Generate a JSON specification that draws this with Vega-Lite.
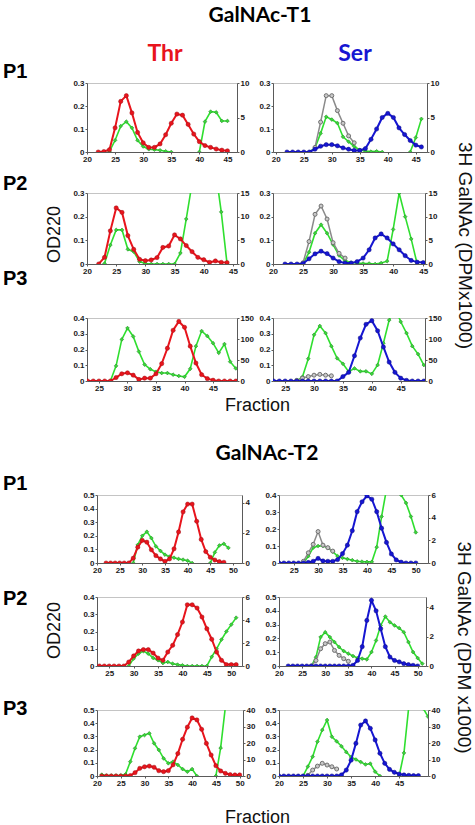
{
"$schema": "https://vega.github.io/schema/vega-lite/v6.json",
"autosize": {"type": "pad"},
"padding": {"left": 3, "top": 5, "right": 0, "bottom": 0},
"background": "white",
"config": {
  "font": "Liberation Sans",
  "view": {"stroke": "#c4c4c4"},
  "axis": {"grid": false, "labelFont": "Liberation Sans", "labelFontSize": 8, "labelFontWeight": "bold", "labelColor": "#1a1a1a", "domainColor": "#5a5a5a", "tickColor": "#5a5a5a", "tickSize": 2, "labelPadding": 1, "labelFlush": false, "labelOverlap": false, "titleFont": "Liberation Sans", "titleFontWeight": "normal", "titleColor": "#111111", "titleFontSize": 18},
  "title": {"font": "Lato", "fontWeight": "bold", "color": "#000000", "anchor": "middle", "frame": "group"}
},
"spacing": 27,
"datasets": {
"a1r": [{"f":22,"v":0},{"f":23,"v":0.002},{"f":24,"v":0.01},{"f":25,"v":0.105},{"f":26,"v":0.22},{"f":27,"v":0.245},{"f":28,"v":0.17},{"f":29,"v":0.085},{"f":30,"v":0.04},{"f":31,"v":0.02},{"f":32,"v":0.02},{"f":33,"v":0.035},{"f":34,"v":0.075},{"f":35,"v":0.125},{"f":36,"v":0.165},{"f":37,"v":0.16},{"f":38,"v":0.12},{"f":39,"v":0.078},{"f":40,"v":0.045},{"f":41,"v":0.028},{"f":42,"v":0.02},{"f":43,"v":0.013},{"f":44,"v":0.008},{"f":45,"v":0.005}],
"a1g": [{"f":24,"v":0.1,"s":1},{"f":25,"v":1.7,"s":1},{"f":26,"v":3.75,"s":1},{"f":27,"v":4.4,"s":1},{"f":28,"v":3.5,"s":1},{"f":29,"v":1.7,"s":1},{"f":30,"v":0.8,"s":1},{"f":31,"v":0.4,"s":1},{"f":32,"v":0.35,"s":1},{"f":33,"v":0.25,"s":1},{"f":34,"v":0.1,"s":1},{"f":35,"v":0,"s":1},{"f":40,"v":0,"s":2},{"f":41,"v":4.4,"s":2},{"f":42,"v":5.85,"s":2},{"f":43,"v":5.75,"s":2},{"f":44,"v":4.5,"s":2},{"f":45,"v":4.5,"s":2}],
"b1b": [{"f":22,"v":0},{"f":23,"v":0},{"f":24,"v":0},{"f":25,"v":0},{"f":26,"v":0},{"f":27,"v":0.012},{"f":28,"v":0.025},{"f":29,"v":0.032},{"f":30,"v":0.032},{"f":31,"v":0.027},{"f":32,"v":0.018},{"f":33,"v":0.012},{"f":34,"v":0.007},{"f":35,"v":0.007},{"f":36,"v":0.015},{"f":37,"v":0.055},{"f":38,"v":0.1},{"f":39,"v":0.15},{"f":40,"v":0.168},{"f":41,"v":0.15},{"f":42,"v":0.105},{"f":43,"v":0.076},{"f":44,"v":0.05},{"f":45,"v":0.03},{"f":46,"v":0.022}],
"b1y": [{"f":27,"v":0.02},{"f":28,"v":0.13},{"f":29,"v":0.245},{"f":30,"v":0.245},{"f":31,"v":0.18},{"f":32,"v":0.125},{"f":33,"v":0.07},{"f":34,"v":0.04}],
"b1g": [{"f":26,"v":0,"s":1},{"f":27,"v":0.6,"s":1},{"f":28,"v":2.7,"s":1},{"f":29,"v":5.1,"s":1},{"f":30,"v":4.7,"s":1},{"f":31,"v":4.2,"s":1},{"f":32,"v":2.2,"s":1},{"f":33,"v":1.5,"s":1},{"f":34,"v":0.8,"s":1},{"f":35,"v":0.3,"s":1},{"f":36,"v":0.15,"s":1},{"f":37,"v":0.05,"s":1},{"f":38,"v":0.1,"s":1},{"f":39,"v":0,"s":1},{"f":44,"v":0,"s":2},{"f":45,"v":2.1,"s":2},{"f":46,"v":4.8,"s":2}],
"a2r": [{"f":22,"v":0},{"f":23,"v":0.028},{"f":24,"v":0.14},{"f":25,"v":0.237},{"f":26,"v":0.218},{"f":27,"v":0.12},{"f":28,"v":0.062},{"f":29,"v":0.02},{"f":30,"v":0.014},{"f":31,"v":0.017},{"f":32,"v":0.027},{"f":33,"v":0.07},{"f":34,"v":0.076},{"f":35,"v":0.123},{"f":36,"v":0.106},{"f":37,"v":0.078},{"f":38,"v":0.052},{"f":39,"v":0.028},{"f":40,"v":0.018},{"f":41,"v":0.007},{"f":42,"v":0.013},{"f":43,"v":0.007},{"f":44,"v":0.006}],
"a2g": [{"f":23,"v":0.1},{"f":24,"v":4.0},{"f":25,"v":7.2},{"f":26,"v":7.2},{"f":27,"v":3.1},{"f":28,"v":2.6},{"f":29,"v":0.5},{"f":30,"v":0.1},{"f":31,"v":0},{"f":32,"v":0},{"f":33,"v":0},{"f":34,"v":0},{"f":35,"v":0},{"f":36,"v":2.3},{"f":37,"v":9.5},{"f":38,"v":17},{"f":39,"v":30},{"f":40,"v":35},{"f":41,"v":30},{"f":42,"v":20},{"f":43,"v":11},{"f":44,"v":0}],
"b2b": [{"f":22,"v":0},{"f":23,"v":0},{"f":24,"v":0},{"f":25,"v":0.002},{"f":26,"v":0.022},{"f":27,"v":0.043},{"f":28,"v":0.054},{"f":29,"v":0.044},{"f":30,"v":0.025},{"f":31,"v":0.01},{"f":32,"v":0.004},{"f":33,"v":0.004},{"f":34,"v":0.01},{"f":35,"v":0.025},{"f":36,"v":0.06},{"f":37,"v":0.11},{"f":38,"v":0.127},{"f":39,"v":0.11},{"f":40,"v":0.085},{"f":41,"v":0.06},{"f":42,"v":0.035},{"f":43,"v":0.015},{"f":44,"v":0.008},{"f":45,"v":0.006}],
"b2y": [{"f":25,"v":0.005},{"f":26,"v":0.095},{"f":27,"v":0.21},{"f":28,"v":0.245},{"f":29,"v":0.19},{"f":30,"v":0.09},{"f":31,"v":0.045},{"f":32,"v":0.025}],
"b2g": [{"f":25,"v":0},{"f":26,"v":2.5},{"f":27,"v":6.5},{"f":28,"v":8.3},{"f":29,"v":6.5},{"f":30,"v":4.1},{"f":31,"v":1.8},{"f":32,"v":0.7},{"f":33,"v":0.3},{"f":34,"v":0.2},{"f":35,"v":0.1},{"f":36,"v":0.1},{"f":37,"v":0},{"f":38,"v":0.2},{"f":39,"v":0.6},{"f":40,"v":7.3},{"f":41,"v":15},{"f":42,"v":10},{"f":43,"v":5.3},{"f":44,"v":0}],
"a3r": [{"f":23,"v":0},{"f":24,"v":0},{"f":25,"v":0},{"f":26,"v":0},{"f":27,"v":0},{"f":28,"v":0.022},{"f":29,"v":0.046},{"f":30,"v":0.052},{"f":31,"v":0.037},{"f":32,"v":0.01},{"f":33,"v":0.018},{"f":34,"v":0.018},{"f":35,"v":0.046},{"f":36,"v":0.11},{"f":37,"v":0.208},{"f":38,"v":0.322},{"f":39,"v":0.378},{"f":40,"v":0.341},{"f":41,"v":0.221},{"f":42,"v":0.114},{"f":43,"v":0.04},{"f":44,"v":0.015},{"f":45,"v":0.005},{"f":46,"v":0},{"f":47,"v":0},{"f":48,"v":0},{"f":49,"v":0}],
"a3g": [{"f":27,"v":0},{"f":28,"v":36},{"f":29,"v":99},{"f":30,"v":126},{"f":31,"v":106},{"f":32,"v":70},{"f":33,"v":39},{"f":34,"v":28},{"f":35,"v":22},{"f":36,"v":19},{"f":37,"v":19},{"f":38,"v":15},{"f":39,"v":12},{"f":40,"v":10},{"f":41,"v":29},{"f":42,"v":83},{"f":43,"v":119},{"f":44,"v":107},{"f":45,"v":90},{"f":46,"v":67},{"f":47,"v":88},{"f":48,"v":46},{"f":49,"v":30}],
"b3b": [{"f":23,"v":0},{"f":24,"v":0},{"f":25,"v":0},{"f":26,"v":0},{"f":27,"v":0},{"f":28,"v":0},{"f":29,"v":0},{"f":30,"v":0},{"f":31,"v":0},{"f":32,"v":0},{"f":33,"v":0},{"f":34,"v":0},{"f":35,"v":0.028},{"f":36,"v":0.055},{"f":37,"v":0.16},{"f":38,"v":0.273},{"f":39,"v":0.36},{"f":40,"v":0.383},{"f":41,"v":0.319},{"f":42,"v":0.216},{"f":43,"v":0.12},{"f":44,"v":0.055},{"f":45,"v":0.018},{"f":46,"v":0.004},{"f":47,"v":0},{"f":48,"v":0},{"f":49,"v":0}],
"b3y": [{"f":27,"v":0.004},{"f":28,"v":0.018},{"f":29,"v":0.028},{"f":30,"v":0.037},{"f":31,"v":0.042},{"f":32,"v":0.037},{"f":33,"v":0.033}],
"b3g": [{"f":27,"v":0},{"f":28,"v":10},{"f":29,"v":53},{"f":30,"v":110},{"f":31,"v":131},{"f":32,"v":114},{"f":33,"v":83},{"f":34,"v":54},{"f":35,"v":41},{"f":36,"v":22},{"f":37,"v":30},{"f":38,"v":23},{"f":39,"v":23},{"f":40,"v":17},{"f":41,"v":38},{"f":42,"v":90},{"f":43,"v":145},{"f":44,"v":175},{"f":45,"v":141},{"f":46,"v":114},{"f":47,"v":83},{"f":48,"v":64},{"f":49,"v":38}],
"c1r": [{"f":22,"v":0},{"f":23,"v":0},{"f":24,"v":0},{"f":25,"v":0},{"f":26,"v":0},{"f":27,"v":0},{"f":28,"v":0.035},{"f":29,"v":0.116},{"f":30,"v":0.166},{"f":31,"v":0.153},{"f":32,"v":0.097},{"f":33,"v":0.054},{"f":34,"v":0.03},{"f":35,"v":0.012},{"f":36,"v":0.03},{"f":37,"v":0.104},{"f":38,"v":0.228},{"f":39,"v":0.376},{"f":40,"v":0.433},{"f":41,"v":0.433},{"f":42,"v":0.307},{"f":43,"v":0.173},{"f":44,"v":0.084},{"f":45,"v":0.042},{"f":46,"v":0.022},{"f":47,"v":0.01},{"f":48,"v":0.005}],
"c1g": [{"f":28,"v":0,"s":1},{"f":29,"v":1.2,"s":1},{"f":30,"v":1.8,"s":1},{"f":31,"v":2.07,"s":1},{"f":32,"v":1.65,"s":1},{"f":33,"v":1.1,"s":1},{"f":34,"v":0.8,"s":1},{"f":35,"v":0.55,"s":1},{"f":36,"v":0.42,"s":1},{"f":37,"v":0.35,"s":1},{"f":38,"v":0.27,"s":1},{"f":39,"v":0.22,"s":1},{"f":40,"v":0.15,"s":1},{"f":41,"v":0,"s":1},{"f":45,"v":0,"s":2},{"f":46,"v":0.7,"s":2},{"f":47,"v":1.16,"s":2},{"f":48,"v":1.27,"s":2},{"f":49,"v":1.0,"s":2}],
"d1b": [{"f":22,"v":0},{"f":23,"v":0},{"f":24,"v":0},{"f":25,"v":0},{"f":26,"v":0},{"f":27,"v":0},{"f":28,"v":0.003},{"f":29,"v":0.01},{"f":30,"v":0.027},{"f":31,"v":0.012},{"f":32,"v":0.01},{"f":33,"v":0.01},{"f":34,"v":0.02},{"f":35,"v":0.055},{"f":36,"v":0.105},{"f":37,"v":0.19},{"f":38,"v":0.302},{"f":39,"v":0.36},{"f":40,"v":0.395},{"f":41,"v":0.375},{"f":42,"v":0.302},{"f":43,"v":0.205},{"f":44,"v":0.121},{"f":45,"v":0.053},{"f":46,"v":0.018},{"f":47,"v":0.005},{"f":48,"v":0},{"f":49,"v":0},{"f":50,"v":0}],
"d1y": [{"f":27,"v":0.01},{"f":28,"v":0.06},{"f":29,"v":0.11},{"f":30,"v":0.185},{"f":31,"v":0.105},{"f":32,"v":0.09},{"f":33,"v":0.07}],
"d1g": [{"f":27,"v":0},{"f":28,"v":0.6},{"f":29,"v":1.35},{"f":30,"v":1.5},{"f":31,"v":1.5},{"f":32,"v":1.35},{"f":33,"v":1.0},{"f":34,"v":0.6},{"f":35,"v":0.45},{"f":36,"v":0.35},{"f":37,"v":0.25},{"f":38,"v":0.15},{"f":39,"v":0.12},{"f":40,"v":0.1},{"f":41,"v":0.1},{"f":42,"v":1.4},{"f":43,"v":4.1},{"f":44,"v":6.5},{"f":45,"v":9},{"f":46,"v":8},{"f":47,"v":6.0},{"f":48,"v":5.3},{"f":49,"v":4.1},{"f":50,"v":2.7}],
"c2r": [{"f":23,"v":0},{"f":24,"v":0},{"f":25,"v":0},{"f":26,"v":0},{"f":27,"v":0},{"f":28,"v":0},{"f":29,"v":0.023},{"f":30,"v":0.058},{"f":31,"v":0.087},{"f":32,"v":0.095},{"f":33,"v":0.095},{"f":34,"v":0.075},{"f":35,"v":0.046},{"f":36,"v":0.033},{"f":37,"v":0.081},{"f":38,"v":0.12},{"f":39,"v":0.182},{"f":40,"v":0.255},{"f":41,"v":0.355},{"f":42,"v":0.355},{"f":43,"v":0.336},{"f":44,"v":0.284},{"f":45,"v":0.216},{"f":46,"v":0.155},{"f":47,"v":0.081},{"f":48,"v":0.033},{"f":49,"v":0.008},{"f":50,"v":0.008},{"f":51,"v":0.008}],
"c2g": [{"f":29,"v":0},{"f":30,"v":0.64},{"f":31,"v":1.07},{"f":32,"v":1.3},{"f":33,"v":1.07},{"f":34,"v":0.7},{"f":35,"v":0.5},{"f":36,"v":0.26},{"f":37,"v":0.35},{"f":38,"v":0.2},{"f":39,"v":0.12},{"f":40,"v":0.06},{"f":41,"v":0},{"f":42,"v":0},{"f":43,"v":0},{"f":44,"v":0},{"f":45,"v":0},{"f":46,"v":0.8},{"f":47,"v":1.5},{"f":48,"v":2.3},{"f":49,"v":3.0},{"f":50,"v":3.6},{"f":51,"v":4.2}],
"d2b": [{"f":22,"v":0},{"f":23,"v":0},{"f":24,"v":0},{"f":25,"v":0},{"f":26,"v":0},{"f":27,"v":0},{"f":28,"v":0},{"f":29,"v":0},{"f":30,"v":0},{"f":31,"v":0},{"f":32,"v":0},{"f":33,"v":0},{"f":34,"v":0},{"f":35,"v":0},{"f":36,"v":0.005},{"f":37,"v":0.04},{"f":38,"v":0.14},{"f":39,"v":0.33},{"f":40,"v":0.476},{"f":41,"v":0.4},{"f":42,"v":0.27},{"f":43,"v":0.14},{"f":44,"v":0.065},{"f":45,"v":0.04},{"f":46,"v":0.03},{"f":47,"v":0.017},{"f":48,"v":0.01},{"f":49,"v":0.005},{"f":50,"v":0}],
"d2y": [{"f":27,"v":0},{"f":28,"v":0.04},{"f":29,"v":0.125},{"f":30,"v":0.162},{"f":31,"v":0.174},{"f":32,"v":0.113},{"f":33,"v":0.077},{"f":34,"v":0.053},{"f":35,"v":0.034}],
"d2g": [{"f":27,"v":0},{"f":28,"v":0.6},{"f":29,"v":1.97},{"f":30,"v":2.3},{"f":31,"v":1.97},{"f":32,"v":1.63},{"f":33,"v":1.29},{"f":34,"v":1.02},{"f":35,"v":0.84},{"f":36,"v":0.68},{"f":37,"v":0.54},{"f":38,"v":0.5},{"f":39,"v":0.45},{"f":40,"v":0.95},{"f":41,"v":1.74},{"f":42,"v":2.76},{"f":43,"v":3.37},{"f":44,"v":2.98},{"f":45,"v":2.76},{"f":46,"v":2.58},{"f":47,"v":2.3},{"f":48,"v":1.63},{"f":49,"v":0.95},{"f":50,"v":0.54},{"f":51,"v":0.16}],
"c3r": [{"f":21,"v":0},{"f":22,"v":0},{"f":23,"v":0},{"f":24,"v":0},{"f":25,"v":0},{"f":26,"v":0},{"f":27,"v":0.003},{"f":28,"v":0.025},{"f":29,"v":0.058},{"f":30,"v":0.07},{"f":31,"v":0.075},{"f":32,"v":0.066},{"f":33,"v":0.04},{"f":34,"v":0.033},{"f":35,"v":0.04},{"f":36,"v":0.085},{"f":37,"v":0.17},{"f":38,"v":0.278},{"f":39,"v":0.37},{"f":40,"v":0.44},{"f":41,"v":0.425},{"f":42,"v":0.354},{"f":43,"v":0.247},{"f":44,"v":0.159},{"f":45,"v":0.078},{"f":46,"v":0.038},{"f":47,"v":0.02},{"f":48,"v":0.01},{"f":49,"v":0.008},{"f":50,"v":0.008}],
"c3g": [{"f":21,"v":0.8,"s":1},{"f":22,"v":0.3,"s":1},{"f":23,"v":0.3,"s":1},{"f":24,"v":0.3,"s":1},{"f":25,"v":0.4,"s":1},{"f":26,"v":1.0,"s":1},{"f":27,"v":8.7,"s":1},{"f":28,"v":16.8,"s":1},{"f":29,"v":23.8,"s":1},{"f":30,"v":24.8,"s":1},{"f":31,"v":25.9,"s":1},{"f":32,"v":19.8,"s":1},{"f":33,"v":15.8,"s":1},{"f":34,"v":10.7,"s":1},{"f":35,"v":7.7,"s":1},{"f":36,"v":8.7,"s":1},{"f":37,"v":6.7,"s":1},{"f":38,"v":4.2,"s":1},{"f":39,"v":2.6,"s":1},{"f":40,"v":4.2,"s":1},{"f":41,"v":0,"s":1},{"f":45,"v":0,"s":2},{"f":46,"v":17,"s":2},{"f":47,"v":42,"s":2},{"f":48,"v":60,"s":2},{"f":49,"v":70,"s":2},{"f":50,"v":75,"s":2}],
"d3b": [{"f":20,"v":0},{"f":21,"v":0},{"f":22,"v":0},{"f":23,"v":0},{"f":24,"v":0},{"f":25,"v":0},{"f":26,"v":0},{"f":27,"v":0},{"f":28,"v":0},{"f":29,"v":0},{"f":30,"v":0},{"f":31,"v":0},{"f":32,"v":0},{"f":33,"v":0.008},{"f":34,"v":0.045},{"f":35,"v":0.12},{"f":36,"v":0.247},{"f":37,"v":0.386},{"f":38,"v":0.417},{"f":39,"v":0.361},{"f":40,"v":0.273},{"f":41,"v":0.172},{"f":42,"v":0.096},{"f":43,"v":0.05},{"f":44,"v":0.028},{"f":45,"v":0.015},{"f":46,"v":0.008},{"f":47,"v":0.005},{"f":48,"v":0.003},{"f":49,"v":0.003}],
"d3y": [{"f":26,"v":0.005},{"f":27,"v":0.045},{"f":28,"v":0.075},{"f":29,"v":0.096},{"f":30,"v":0.083},{"f":31,"v":0.07},{"f":32,"v":0.053}],
"d3g": [{"f":24,"v":0,"s":1},{"f":25,"v":0,"s":1},{"f":26,"v":5.7,"s":1},{"f":27,"v":11.7,"s":1},{"f":28,"v":20.8,"s":1},{"f":29,"v":27.9,"s":1},{"f":30,"v":33.9,"s":1},{"f":31,"v":23.8,"s":1},{"f":32,"v":21,"s":1},{"f":33,"v":18,"s":1},{"f":34,"v":14.5,"s":1},{"f":35,"v":11.5,"s":1},{"f":36,"v":10,"s":1},{"f":37,"v":8.5,"s":1},{"f":38,"v":7,"s":1},{"f":39,"v":7.5,"s":1},{"f":40,"v":2.6,"s":1},{"f":41,"v":0,"s":1},{"f":45,"v":0,"s":2},{"f":46,"v":14,"s":2},{"f":47,"v":42,"s":2},{"f":48,"v":48,"s":2},{"f":49,"v":44,"s":2},{"f":50,"v":41,"s":2},{"f":51,"v":36,"s":2}]
},
"vconcat": [
{"columns": 3, "bounds": "flush", "align": {"row": "each", "column": "none"}, "spacing": {"row": 0, "column": 36},
"concat": [
{"width":48,"height":20,"view":{"stroke":null},"data":{"values":[]},"mark":"point","encoding":{}},
{"width":1,"height":20,"view":{"stroke":null},"title":{"text":"GalNAc-T1","fontSize":21,"offset":37,"dx":172.5},"data":{"values":[]},"mark":"point","encoding":{}},
{"width":1,"height":20,"view":{"stroke":null},"data":{"values":[]},"mark":"point","encoding":{}},

{"width":48,"height":69,"view":{"stroke":null},"title":{"text":"P1","font":"Liberation Sans","fontSize":20,"anchor":"start","offset":1},"data":{"values":[]},"mark":"point","encoding":{}},
{"width":150,"height":69,"title":{"text":"Thr","color":"#e8141c","fontSize":23,"offset":13,"dx":3},"resolve":{"scale":{"y":"independent"}},
 "layer":[
  {"data":{"name":"a1g"},"mark":{"type":"line","color":"#2fdf2f","strokeWidth":1.6,"clip":true,"point":{"shape":"diamond","filled":true,"size":14,"fill":"#3ad83a","stroke":"#2a8a2a","strokeWidth":0.6}},
   "encoding":{"x":{"field":"f","type":"quantitative","scale":{"domain":[20,46.7],"nice":false,"zero":false},"axis":{"values":[20,25,30,35,40,45],"format":"d","title":null,"labelFlush":false}},
   "y":{"field":"v","type":"quantitative","scale":{"domain":[0,10],"nice":false,"zero":false},"axis":{"orient":"right","values":[0,5,10],"format":"d","title":null,"labelFlush":false}},"detail":{"field":"s"}}},
  {"data":{"name":"a1r"},"mark":{"type":"line","color":"#e8141c","strokeWidth":2,"clip":true,"point":{"filled":true,"size":18,"fill":"#e8141c","stroke":"#a00e14","strokeWidth":0.5}},
   "encoding":{"x":{"field":"f","type":"quantitative","scale":{"domain":[20,46.7],"nice":false,"zero":false},"axis":{"values":[20,25,30,35,40,45],"format":"d","title":null,"labelFlush":false}},
   "y":{"field":"v","type":"quantitative","scale":{"domain":[0,0.3],"nice":false,"zero":false},"axis":{"orient":"left","values":[0,0.1,0.2,0.3],"format":"~g","title":null,"labelFlush":false}}}}
 ]},
{"width":154,"height":69,"title":{"text":"Ser","color":"#1616d2","fontSize":23,"offset":13,"dx":5},"resolve":{"scale":{"y":"independent"}},
 "layer":[
  {"data":{"name":"b1g"},"mark":{"type":"line","color":"#2fdf2f","strokeWidth":1.6,"clip":true,"point":{"shape":"diamond","filled":true,"size":14,"fill":"#3ad83a","stroke":"#2a8a2a","strokeWidth":0.6}},
   "encoding":{"x":{"field":"f","type":"quantitative","scale":{"domain":[19.5,47],"nice":false,"zero":false},"axis":{"values":[20,25,30,35,40,45],"format":"d","title":null,"labelFlush":false}},
   "y":{"field":"v","type":"quantitative","scale":{"domain":[0,10],"nice":false,"zero":false},"axis":{"orient":"right","values":[0,5,10],"format":"d","title":null,"labelFlush":false}},"detail":{"field":"s"}}},
  {"data":{"name":"b1y"},"mark":{"type":"line","color":"#8a8a8a","strokeWidth":1.5,"clip":true,"point":{"filled":true,"size":16,"fill":"#c8c8c8","stroke":"#707070","strokeWidth":1}},
   "encoding":{"x":{"field":"f","type":"quantitative","scale":{"domain":[19.5,47],"nice":false,"zero":false},"axis":{"values":[20,25,30,35,40,45],"format":"d","title":null,"labelFlush":false}},
   "y":{"field":"v","type":"quantitative","scale":{"domain":[0,0.3],"nice":false,"zero":false},"axis":null}}},
  {"data":{"name":"b1b"},"mark":{"type":"line","color":"#1616d2","strokeWidth":2,"clip":true,"point":{"filled":true,"size":18,"fill":"#1616d2","stroke":"#0b0b80","strokeWidth":0.5}},
   "encoding":{"x":{"field":"f","type":"quantitative","scale":{"domain":[19.5,47],"nice":false,"zero":false},"axis":{"values":[20,25,30,35,40,45],"format":"d","title":null,"labelFlush":false}},
   "y":{"field":"v","type":"quantitative","scale":{"domain":[0,0.3],"nice":false,"zero":false},"axis":{"orient":"left","values":[0,0.1,0.2,0.3],"format":"~g","title":null,"labelFlush":false}}}}
 ]},

{"width":48,"height":41,"view":{"stroke":null},"data":{"values":[]},"mark":"point","encoding":{}},
{"width":1,"height":41,"view":{"stroke":null},"data":{"values":[]},"mark":"point","encoding":{}},
{"width":1,"height":41,"view":{"stroke":null},"data":{"values":[]},"mark":"point","encoding":{}},

{"width":48,"height":71,"view":{"stroke":null},"title":{"text":"P2","font":"Liberation Sans","fontSize":20,"anchor":"start","offset":-1},"data":{"values":[]},"mark":"point","encoding":{}},
{"width":150,"height":71,"resolve":{"scale":{"y":"independent"}},
 "layer":[
  {"data":{"name":"a2g"},"mark":{"type":"line","color":"#2fdf2f","strokeWidth":1.6,"clip":true,"point":{"shape":"diamond","filled":true,"size":14,"fill":"#3ad83a","stroke":"#2a8a2a","strokeWidth":0.6}},
   "encoding":{"x":{"field":"f","type":"quantitative","scale":{"domain":[20,45.7],"nice":false,"zero":false},"axis":{"values":[20,25,30,35,40,45],"format":"d","title":null,"labelFlush":false}},
   "y":{"field":"v","type":"quantitative","scale":{"domain":[0,15],"nice":false,"zero":false},"axis":{"orient":"right","values":[0,5,10,15],"format":"d","title":null,"labelFlush":false}}}},
  {"data":{"name":"a2r"},"mark":{"type":"line","color":"#e8141c","strokeWidth":2,"clip":true,"point":{"filled":true,"size":18,"fill":"#e8141c","stroke":"#a00e14","strokeWidth":0.5}},
   "encoding":{"x":{"field":"f","type":"quantitative","scale":{"domain":[20,45.7],"nice":false,"zero":false},"axis":{"values":[20,25,30,35,40,45],"format":"d","title":null,"labelFlush":false}},
   "y":{"field":"v","type":"quantitative","scale":{"domain":[0,0.3],"nice":false,"zero":false},"axis":{"orient":"left","values":[0,0.1,0.2,0.3],"format":"~g","title":"OD220","titleX":-32.5,"titleY":41,"titleAngle":-90,"titleBaseline":"middle","titleAlign":"center","titleFontSize":18,"labelFlush":false}}}}
 ]},
{"width":152,"height":71,"resolve":{"scale":{"y":"independent"}},
 "layer":[
  {"data":{"name":"b2g"},"mark":{"type":"line","color":"#2fdf2f","strokeWidth":1.6,"clip":true,"point":{"shape":"diamond","filled":true,"size":14,"fill":"#3ad83a","stroke":"#2a8a2a","strokeWidth":0.6}},
   "encoding":{"x":{"field":"f","type":"quantitative","scale":{"domain":[20,45.3],"nice":false,"zero":false},"axis":{"values":[20,25,30,35,40,45],"format":"d","title":null,"labelFlush":false}},
   "y":{"field":"v","type":"quantitative","scale":{"domain":[0,15],"nice":false,"zero":false},"axis":{"orient":"right","values":[0,5,10,15],"format":"d","title":"3H GalNAc (DPMx1000)","titleX":39,"titleY":52,"titleAngle":90,"titleBaseline":"middle","titleAlign":"center","titleFontSize":19,"labelFlush":false}}}},
  {"data":{"name":"b2y"},"mark":{"type":"line","color":"#8a8a8a","strokeWidth":1.5,"clip":true,"point":{"filled":true,"size":16,"fill":"#c8c8c8","stroke":"#707070","strokeWidth":1}},
   "encoding":{"x":{"field":"f","type":"quantitative","scale":{"domain":[20,45.3],"nice":false,"zero":false},"axis":{"values":[20,25,30,35,40,45],"format":"d","title":null,"labelFlush":false}},
   "y":{"field":"v","type":"quantitative","scale":{"domain":[0,0.3],"nice":false,"zero":false},"axis":null}}},
  {"data":{"name":"b2b"},"mark":{"type":"line","color":"#1616d2","strokeWidth":2,"clip":true,"point":{"filled":true,"size":18,"fill":"#1616d2","stroke":"#0b0b80","strokeWidth":0.5}},
   "encoding":{"x":{"field":"f","type":"quantitative","scale":{"domain":[20,45.3],"nice":false,"zero":false},"axis":{"values":[20,25,30,35,40,45],"format":"d","title":null,"labelFlush":false}},
   "y":{"field":"v","type":"quantitative","scale":{"domain":[0,0.3],"nice":false,"zero":false},"axis":{"orient":"left","values":[0,0.1,0.2,0.3],"format":"~g","title":null,"labelFlush":false}}}}
 ]},

{"width":48,"height":54,"view":{"stroke":null},"data":{"values":[]},"mark":"point","encoding":{}},
{"width":1,"height":54,"view":{"stroke":null},"data":{"values":[]},"mark":"point","encoding":{}},
{"width":1,"height":54,"view":{"stroke":null},"data":{"values":[]},"mark":"point","encoding":{}},

{"width":48,"height":63,"view":{"stroke":null},"title":{"text":"P3","font":"Liberation Sans","fontSize":20,"anchor":"start","offset":29},"data":{"values":[]},"mark":"point","encoding":{}},
{"width":150,"height":63,"resolve":{"scale":{"y":"independent"}},
 "layer":[
  {"data":{"name":"a3g"},"mark":{"type":"line","color":"#2fdf2f","strokeWidth":1.6,"clip":true,"point":{"shape":"diamond","filled":true,"size":14,"fill":"#3ad83a","stroke":"#2a8a2a","strokeWidth":0.6}},
   "encoding":{"x":{"field":"f","type":"quantitative","scale":{"domain":[22.9,49.2],"nice":false,"zero":false},"axis":{"values":[25,30,35,40,45],"format":"d","title":"Fraction","titleX":170,"titleY":24,"titleAngle":0,"titleBaseline":"middle","titleAlign":"center","titleFontSize":18,"labelFlush":false}},
   "y":{"field":"v","type":"quantitative","scale":{"domain":[0,150],"nice":false,"zero":false},"axis":{"orient":"right","values":[0,50,100,150],"format":"d","title":null,"labelFlush":false}}}},
  {"data":{"name":"a3r"},"mark":{"type":"line","color":"#e8141c","strokeWidth":2,"clip":true,"point":{"filled":true,"size":18,"fill":"#e8141c","stroke":"#a00e14","strokeWidth":0.5}},
   "encoding":{"x":{"field":"f","type":"quantitative","scale":{"domain":[22.9,49.2],"nice":false,"zero":false},"axis":{"values":[25,30,35,40,45],"format":"d","title":"Fraction","titleX":170,"titleY":24,"titleAngle":0,"titleBaseline":"middle","titleAlign":"center","titleFontSize":18,"labelFlush":false}},
   "y":{"field":"v","type":"quantitative","scale":{"domain":[0,0.4],"nice":false,"zero":false},"axis":{"orient":"left","values":[0,0.1,0.2,0.3,0.4],"format":"~g","title":null,"labelFlush":false}}}}
 ]},
{"width":152,"height":63,"resolve":{"scale":{"y":"independent"}},
 "layer":[
  {"data":{"name":"b3g"},"mark":{"type":"line","color":"#2fdf2f","strokeWidth":1.6,"clip":true,"point":{"shape":"diamond","filled":true,"size":14,"fill":"#3ad83a","stroke":"#2a8a2a","strokeWidth":0.6}},
   "encoding":{"x":{"field":"f","type":"quantitative","scale":{"domain":[22.9,49.2],"nice":false,"zero":false},"axis":{"values":[25,30,35,40,45],"format":"d","title":null,"labelFlush":false}},
   "y":{"field":"v","type":"quantitative","scale":{"domain":[0,150],"nice":false,"zero":false},"axis":{"orient":"right","values":[0,50,100,150],"format":"d","title":null,"labelFlush":false}}}},
  {"data":{"name":"b3y"},"mark":{"type":"line","color":"#8a8a8a","strokeWidth":1.5,"clip":true,"point":{"filled":true,"size":16,"fill":"#c8c8c8","stroke":"#707070","strokeWidth":1}},
   "encoding":{"x":{"field":"f","type":"quantitative","scale":{"domain":[22.9,49.2],"nice":false,"zero":false},"axis":{"values":[25,30,35,40,45],"format":"d","title":null,"labelFlush":false}},
   "y":{"field":"v","type":"quantitative","scale":{"domain":[0,0.4],"nice":false,"zero":false},"axis":null}}},
  {"data":{"name":"b3b"},"mark":{"type":"line","color":"#1616d2","strokeWidth":2,"clip":true,"point":{"filled":true,"size":18,"fill":"#1616d2","stroke":"#0b0b80","strokeWidth":0.5}},
   "encoding":{"x":{"field":"f","type":"quantitative","scale":{"domain":[22.9,49.2],"nice":false,"zero":false},"axis":{"values":[25,30,35,40,45],"format":"d","title":null,"labelFlush":false}},
   "y":{"field":"v","type":"quantitative","scale":{"domain":[0,0.4],"nice":false,"zero":false},"axis":{"orient":"left","values":[0,0.1,0.2,0.3,0.4],"format":"~g","title":null,"labelFlush":false}}}}
 ]}
]},
{"columns": 3, "bounds": "flush", "align": {"row": "each", "column": "none"}, "spacing": {"row": 0, "column": 36},
"concat": [
{"width":58,"height":68,"view":{"stroke":null},"title":{"text":"P1","font":"Liberation Sans","fontSize":20,"anchor":"start","offset":1},"data":{"values":[]},"mark":"point","encoding":{}},
{"width":145,"height":68,"title":{"text":"GalNAc-T2","fontSize":21,"offset":27,"dx":97.5},"resolve":{"scale":{"y":"independent"}},
 "layer":[
  {"data":{"name":"c1g"},"mark":{"type":"line","color":"#2fdf2f","strokeWidth":1.6,"clip":true,"point":{"shape":"diamond","filled":true,"size":14,"fill":"#3ad83a","stroke":"#2a8a2a","strokeWidth":0.6}},
   "encoding":{"x":{"field":"f","type":"quantitative","scale":{"domain":[20,52],"nice":false,"zero":false},"axis":{"values":[20,25,30,35,40,45,50],"format":"d","title":null,"labelFlush":false}},
   "y":{"field":"v","type":"quantitative","scale":{"domain":[0,4.5],"nice":false,"zero":false},"axis":{"orient":"right","values":[0,2,4],"format":"d","title":null,"labelFlush":false}},"detail":{"field":"s"}}},
  {"data":{"name":"c1r"},"mark":{"type":"line","color":"#e8141c","strokeWidth":2,"clip":true,"point":{"filled":true,"size":18,"fill":"#e8141c","stroke":"#a00e14","strokeWidth":0.5}},
   "encoding":{"x":{"field":"f","type":"quantitative","scale":{"domain":[20,52],"nice":false,"zero":false},"axis":{"values":[20,25,30,35,40,45,50],"format":"d","title":null,"labelFlush":false}},
   "y":{"field":"v","type":"quantitative","scale":{"domain":[0,0.5],"nice":false,"zero":false},"axis":{"orient":"left","values":[0,0.1,0.2,0.3,0.4,0.5],"format":"~g","title":null,"labelFlush":false}}}}
 ]},
{"width":149,"height":68,"resolve":{"scale":{"y":"independent"}},
 "layer":[
  {"data":{"name":"d1g"},"mark":{"type":"line","color":"#2fdf2f","strokeWidth":1.6,"clip":true,"point":{"shape":"diamond","filled":true,"size":14,"fill":"#3ad83a","stroke":"#2a8a2a","strokeWidth":0.6}},
   "encoding":{"x":{"field":"f","type":"quantitative","scale":{"domain":[22,52.5],"nice":false,"zero":false},"axis":{"values":[25,30,35,40,45,50],"format":"d","title":null,"labelFlush":false}},
   "y":{"field":"v","type":"quantitative","scale":{"domain":[0,6],"nice":false,"zero":false},"axis":{"orient":"right","values":[0,2,4,6],"format":"d","title":null,"labelFlush":false}}}},
  {"data":{"name":"d1y"},"mark":{"type":"line","color":"#8a8a8a","strokeWidth":1.5,"clip":true,"point":{"filled":true,"size":16,"fill":"#c8c8c8","stroke":"#707070","strokeWidth":1}},
   "encoding":{"x":{"field":"f","type":"quantitative","scale":{"domain":[22,52.5],"nice":false,"zero":false},"axis":{"values":[25,30,35,40,45,50],"format":"d","title":null,"labelFlush":false}},
   "y":{"field":"v","type":"quantitative","scale":{"domain":[0,0.4],"nice":false,"zero":false},"axis":null}}},
  {"data":{"name":"d1b"},"mark":{"type":"line","color":"#1616d2","strokeWidth":2,"clip":true,"point":{"filled":true,"size":18,"fill":"#1616d2","stroke":"#0b0b80","strokeWidth":0.5}},
   "encoding":{"x":{"field":"f","type":"quantitative","scale":{"domain":[22,52.5],"nice":false,"zero":false},"axis":{"values":[25,30,35,40,45,50],"format":"d","title":null,"labelFlush":false}},
   "y":{"field":"v","type":"quantitative","scale":{"domain":[0,0.4],"nice":false,"zero":false},"axis":{"orient":"left","values":[0,0.1,0.2,0.3,0.4],"format":"~g","title":null,"labelFlush":false}}}}
 ]},

{"width":48,"height":34,"view":{"stroke":null},"data":{"values":[]},"mark":"point","encoding":{}},
{"width":1,"height":34,"view":{"stroke":null},"data":{"values":[]},"mark":"point","encoding":{}},
{"width":1,"height":34,"view":{"stroke":null},"data":{"values":[]},"mark":"point","encoding":{}},

{"width":58,"height":69,"view":{"stroke":null},"title":{"text":"P2","font":"Liberation Sans","fontSize":20,"anchor":"start","offset":-12},"data":{"values":[]},"mark":"point","encoding":{}},
{"width":145,"height":69,"resolve":{"scale":{"y":"independent"}},
 "layer":[
  {"data":{"name":"c2g"},"mark":{"type":"line","color":"#2fdf2f","strokeWidth":1.6,"clip":true,"point":{"shape":"diamond","filled":true,"size":14,"fill":"#3ad83a","stroke":"#2a8a2a","strokeWidth":0.6}},
   "encoding":{"x":{"field":"f","type":"quantitative","scale":{"domain":[22.5,52.2],"nice":false,"zero":false},"axis":{"values":[25,30,35,40,45,50],"format":"d","title":null,"labelFlush":false}},
   "y":{"field":"v","type":"quantitative","scale":{"domain":[0,6],"nice":false,"zero":false},"axis":{"orient":"right","values":[0,2,4,6],"format":"d","title":null,"labelFlush":false}}}},
  {"data":{"name":"c2r"},"mark":{"type":"line","color":"#e8141c","strokeWidth":2,"clip":true,"point":{"filled":true,"size":18,"fill":"#e8141c","stroke":"#a00e14","strokeWidth":0.5}},
   "encoding":{"x":{"field":"f","type":"quantitative","scale":{"domain":[22.5,52.2],"nice":false,"zero":false},"axis":{"values":[25,30,35,40,45,50],"format":"d","title":null,"labelFlush":false}},
   "y":{"field":"v","type":"quantitative","scale":{"domain":[0,0.4],"nice":false,"zero":false},"axis":{"orient":"left","values":[0,0.1,0.2,0.3,0.4],"format":"~g","title":"OD220","titleX":-42.5,"titleY":33,"titleAngle":-90,"titleBaseline":"middle","titleAlign":"center","titleFontSize":18,"labelFlush":false}}}}
 ]},
{"width":147,"height":69,"resolve":{"scale":{"y":"independent"}},
 "layer":[
  {"data":{"name":"d2g"},"mark":{"type":"line","color":"#2fdf2f","strokeWidth":1.6,"clip":true,"point":{"shape":"diamond","filled":true,"size":14,"fill":"#3ad83a","stroke":"#2a8a2a","strokeWidth":0.6}},
   "encoding":{"x":{"field":"f","type":"quantitative","scale":{"domain":[20,51.8],"nice":false,"zero":false},"axis":{"values":[20,25,30,35,40,45,50],"format":"d","title":null,"labelFlush":false}},
   "y":{"field":"v","type":"quantitative","scale":{"domain":[0,4.7],"nice":false,"zero":false},"axis":{"orient":"right","values":[0,2,4],"format":"d","title":"3H GalNAc (DPM x1000)","titleX":37.5,"titleY":50,"titleAngle":90,"titleBaseline":"middle","titleAlign":"center","titleFontSize":19,"labelFlush":false}}}},
  {"data":{"name":"d2y"},"mark":{"type":"line","color":"#8a8a8a","strokeWidth":1.5,"clip":true,"point":{"filled":true,"size":16,"fill":"#c8c8c8","stroke":"#707070","strokeWidth":1}},
   "encoding":{"x":{"field":"f","type":"quantitative","scale":{"domain":[20,51.8],"nice":false,"zero":false},"axis":{"values":[20,25,30,35,40,45,50],"format":"d","title":null,"labelFlush":false}},
   "y":{"field":"v","type":"quantitative","scale":{"domain":[0,0.5],"nice":false,"zero":false},"axis":null}}},
  {"data":{"name":"d2b"},"mark":{"type":"line","color":"#1616d2","strokeWidth":2,"clip":true,"point":{"filled":true,"size":18,"fill":"#1616d2","stroke":"#0b0b80","strokeWidth":0.5}},
   "encoding":{"x":{"field":"f","type":"quantitative","scale":{"domain":[20,51.8],"nice":false,"zero":false},"axis":{"values":[20,25,30,35,40,45,50],"format":"d","title":null,"labelFlush":false}},
   "y":{"field":"v","type":"quantitative","scale":{"domain":[0,0.5],"nice":false,"zero":false},"axis":{"orient":"left","values":[0,0.1,0.2,0.3,0.4,0.5],"format":"~g","title":null,"labelFlush":false}}}}
 ]},

{"width":48,"height":44,"view":{"stroke":null},"data":{"values":[]},"mark":"point","encoding":{}},
{"width":1,"height":44,"view":{"stroke":null},"data":{"values":[]},"mark":"point","encoding":{}},
{"width":1,"height":44,"view":{"stroke":null},"data":{"values":[]},"mark":"point","encoding":{}},

{"width":58,"height":66,"view":{"stroke":null},"title":{"text":"P3","font":"Liberation Sans","fontSize":20,"anchor":"start","offset":-9},"data":{"values":[]},"mark":"point","encoding":{}},
{"width":146,"height":66,"resolve":{"scale":{"y":"independent"}},
 "layer":[
  {"data":{"name":"c3g"},"mark":{"type":"line","color":"#2fdf2f","strokeWidth":1.6,"clip":true,"point":{"shape":"diamond","filled":true,"size":14,"fill":"#3ad83a","stroke":"#2a8a2a","strokeWidth":0.6}},
   "encoding":{"x":{"field":"f","type":"quantitative","scale":{"domain":[20,50.7],"nice":false,"zero":false},"axis":{"values":[20,25,30,35,40,45,50],"format":"d","title":"Fraction","titleX":160,"titleY":41,"titleAngle":0,"titleBaseline":"middle","titleAlign":"center","titleFontSize":18,"labelFlush":false}},
   "y":{"field":"v","type":"quantitative","scale":{"domain":[0,40],"nice":false,"zero":false},"axis":{"orient":"right","values":[0,10,20,30,40],"format":"d","title":null,"labelFlush":false}},"detail":{"field":"s"}}},
  {"data":{"name":"c3r"},"mark":{"type":"line","color":"#e8141c","strokeWidth":2,"clip":true,"point":{"filled":true,"size":18,"fill":"#e8141c","stroke":"#a00e14","strokeWidth":0.5}},
   "encoding":{"x":{"field":"f","type":"quantitative","scale":{"domain":[20,50.7],"nice":false,"zero":false},"axis":{"values":[20,25,30,35,40,45,50],"format":"d","title":"Fraction","titleX":160,"titleY":41,"titleAngle":0,"titleBaseline":"middle","titleAlign":"center","titleFontSize":18,"labelFlush":false}},
   "y":{"field":"v","type":"quantitative","scale":{"domain":[0,0.5],"nice":false,"zero":false},"axis":{"orient":"left","values":[0,0.1,0.2,0.3,0.4,0.5],"format":"~g","title":null,"labelFlush":false}}}}
 ]},
{"width":149,"height":66,"resolve":{"scale":{"y":"independent"}},
 "layer":[
  {"data":{"name":"d3g"},"mark":{"type":"line","color":"#2fdf2f","strokeWidth":1.6,"clip":true,"point":{"shape":"diamond","filled":true,"size":14,"fill":"#3ad83a","stroke":"#2a8a2a","strokeWidth":0.6}},
   "encoding":{"x":{"field":"f","type":"quantitative","scale":{"domain":[20,51],"nice":false,"zero":false},"axis":{"values":[20,25,30,35,40,45],"format":"d","title":null,"labelFlush":false}},
   "y":{"field":"v","type":"quantitative","scale":{"domain":[0,40],"nice":false,"zero":false},"axis":{"orient":"right","values":[0,10,20,30,40],"format":"d","title":null,"labelFlush":false}},"detail":{"field":"s"}}},
  {"data":{"name":"d3y"},"mark":{"type":"line","color":"#8a8a8a","strokeWidth":1.5,"clip":true,"point":{"filled":true,"size":16,"fill":"#c8c8c8","stroke":"#707070","strokeWidth":1}},
   "encoding":{"x":{"field":"f","type":"quantitative","scale":{"domain":[20,51],"nice":false,"zero":false},"axis":{"values":[20,25,30,35,40,45],"format":"d","title":null,"labelFlush":false}},
   "y":{"field":"v","type":"quantitative","scale":{"domain":[0,0.5],"nice":false,"zero":false},"axis":null}}},
  {"data":{"name":"d3b"},"mark":{"type":"line","color":"#1616d2","strokeWidth":2,"clip":true,"point":{"filled":true,"size":18,"fill":"#1616d2","stroke":"#0b0b80","strokeWidth":0.5}},
   "encoding":{"x":{"field":"f","type":"quantitative","scale":{"domain":[20,51],"nice":false,"zero":false},"axis":{"values":[20,25,30,35,40,45],"format":"d","title":null,"labelFlush":false}},
   "y":{"field":"v","type":"quantitative","scale":{"domain":[0,0.5],"nice":false,"zero":false},"axis":{"orient":"left","values":[0,0.1,0.2,0.3,0.4,0.5],"format":"~g","title":null,"labelFlush":false}}}}
 ]}
]}
]
}
